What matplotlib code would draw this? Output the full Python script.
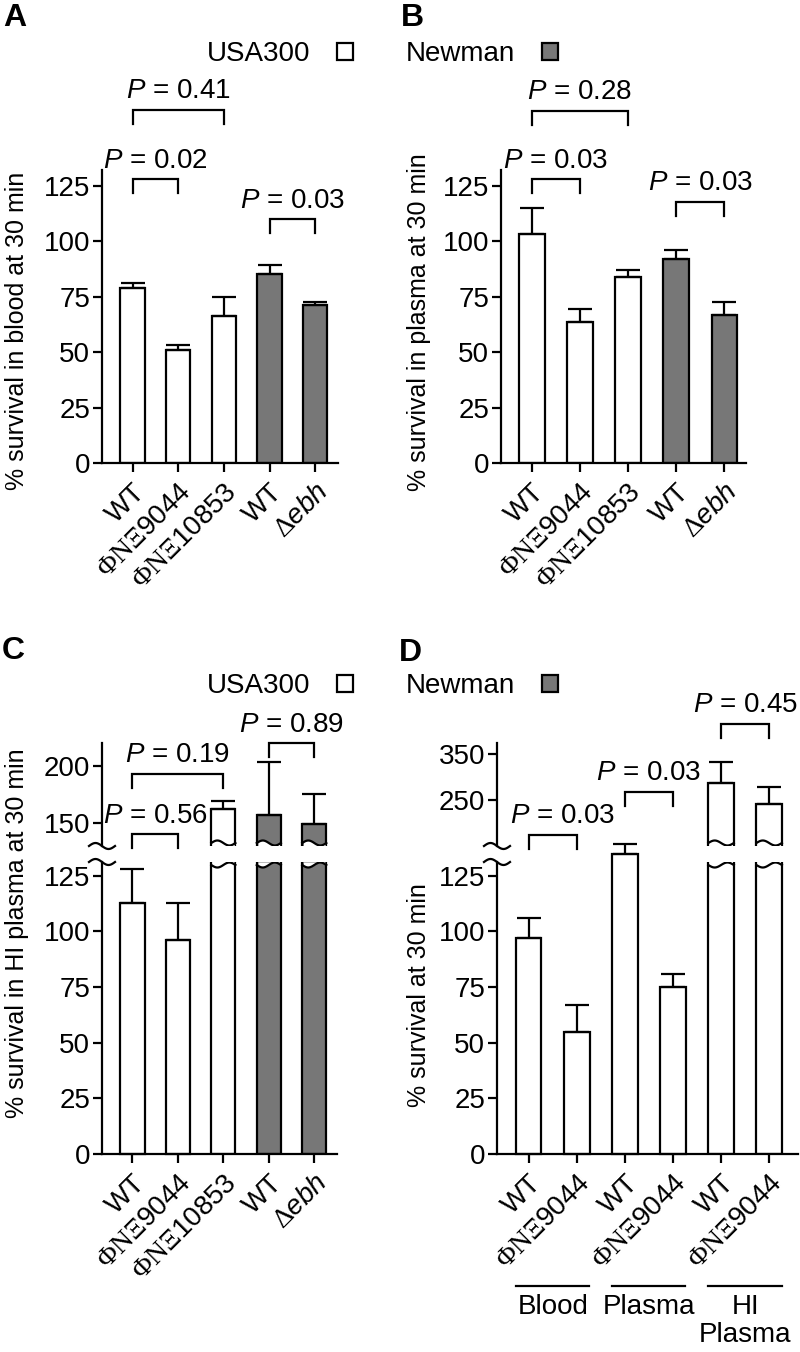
import numpy as np
import matplotlib.pyplot as plt
from matplotlib.patches import Patch
from matplotlib.transforms import blended_transform_factory

plt.rcParams['font.family'] = ['Liberation Sans', 'DejaVu Sans']
plt.rcParams['mathtext.fontset'] = 'custom'
plt.rcParams['mathtext.rm'] = 'Liberation Serif'
plt.rcParams['mathtext.it'] = 'Liberation Sans:italic'
plt.rcParams['mathtext.bf'] = 'Liberation Sans:bold'

# ---- data ----
PHI_NE = r"$\mathrm{\Phi N\Xi}$"
strains = ["WT", PHI_NE + "9044", PHI_NE + "10853", "WT", r"$\mathrm{\Delta}\mathit{ebh}$"]
is_newman = [False, False, False, True, True]

blood_mean = [79, 51, 66, 85, 71]
blood_err = [2, 2, 9, 4, 1.5]

plasma_mean = [103, 63.5, 84, 92, 66.5]
plasma_err = [12, 5.7, 3, 4, 6]

hi_mean = [113, 96, 162, 157, 149.5]
hi_err = [15, 17, 7, 46, 26]

d_labels = ["WT", PHI_NE + "9044"] * 3
d_mean = [97, 55, 135, 75, 287, 242]
d_err = [9, 12, 4.5, 5.7, 47, 37]
d_groups = ["Blood", "Plasma", "HI\nPlasma"]

# p-value comparisons: (bar i, bar j, bracket height, label)
cmp_a = [(0, 1, 127.8, "0.02"), (0, 2, 159, "0.41"), (3, 4, 109.7, "0.03")]
cmp_b = [(0, 1, 127.8, "0.03"), (0, 2, 158.5, "0.28"), (3, 4, 117.6, "0.03")]
cmp_c_low = [(0, 1, 143.6, "0.56")]
cmp_c_up = [(0, 2, 193, "0.19"), (3, 4, 219.6, "0.89")]
cmp_d_low = [(0, 1, 143.4, "0.03", 7)]
cmp_d_up = [(2, 3, 269, "0.03"), (4, 5, 416, "0.45")]

GRAY = '#777777'
LW = 1.6
W, H = 800, 1352
BAR_W = 0.53

fig = plt.figure(figsize=(W / 100, H / 100), dpi=100)


def box(left, right, top, bottom):
    return [left / W, 1 - bottom / H, (right - left) / W, (bottom - top) / H]


def style(ax, bottom=True):
    ax.patch.set_visible(False)
    for s in ['top', 'right']:
        ax.spines[s].set_visible(False)
    ax.spines['left'].set_linewidth(LW)
    ax.spines['bottom'].set_linewidth(LW)
    if not bottom:
        ax.spines['bottom'].set_visible(False)
        ax.tick_params(axis='x', bottom=False, labelbottom=False)
    ax.tick_params(axis='both', width=LW, length=6.5, labelsize=20, direction='out')
    ax.tick_params(axis='y', pad=2)
    ax.tick_params(axis='x', pad=5)


def xlabels(ax, labels):
    ax.set_xticks(np.arange(len(labels)))
    ax.set_xticklabels(labels, rotation=45, ha='right', va='top', rotation_mode='anchor')


def bars(ax, means, errs, colors, clip):
    x = np.arange(len(means))
    bc = ax.bar(x, means, width=BAR_W, color=colors, edgecolor='k', linewidth=LW, zorder=2)
    for p, c in zip(bc.patches, clip):
        p.set_clip_on(c)
    for xi, m, e, c in zip(x, means, errs, clip):
        if e == 0:
            continue
        eb = ax.errorbar([xi], [m], yerr=[[0], [e]], fmt='none', ecolor='k',
                         elinewidth=LW, capsize=8.5, capthick=LW, zorder=3)
        for art in eb.lines[1] + eb.lines[2]:
            art.set_clip_on(c)


def bracket(ax, i, j, y, label, dx=0):
    ppu = ax.bbox.height / (ax.get_ylim()[1] - ax.get_ylim()[0])
    leg = 14 / ppu
    ax.plot([i, i, j, j], [y - leg, y, y, y - leg], color='k', lw=LW, clip_on=False,
            solid_joinstyle='miter', zorder=5)
    ax.annotate(r"$\mathit{P}$ = " + label, xy=((i + j) / 2, y), xytext=(dx, 8.5),
                textcoords='offset points', ha='center', va='baseline', fontsize=20,
                annotation_clip=False, zorder=5)


def squiggle(ax, yfrac):
    w, h = ax.bbox.width, ax.bbox.height
    t = np.linspace(0, 1, 40)
    ax.plot((-13 + 26 * t) / w, yfrac + 3 * np.sin(2 * np.pi * t) / h,
            transform=ax.transAxes, color='k', lw=LW, clip_on=False)


def bar_cut(ax, xc, top):
    h = ax.bbox.height
    t = np.linspace(0, 1, 40)
    xs = xc - BAR_W / 2 + BAR_W * t
    off = (3 + 2.5 * np.sin(2 * np.pi * t)) / h
    tr = blended_transform_factory(ax.transData, ax.transAxes)
    inset = (t > 0.03) & (t < 0.97)
    if top:
        ys = 1 - off
        ax.fill_between(xs[inset], ys[inset], 1, transform=tr, color='white', zorder=3, lw=0)
    else:
        ys = off
        ax.fill_between(xs[inset], 0, ys[inset], transform=tr, color='white', zorder=3, lw=0)
    ax.plot(xs, ys, transform=tr, color='k', lw=LW, zorder=4)


def colors_of(flags):
    return [GRAY if f else 'white' for f in flags]


# ---- Panel A ----
axA = fig.add_axes(box(102, 338, 170, 463))
style(axA)
axA.set_xlim(-0.67, 4.5)
axA.set_ylim(0, 132)
bars(axA, blood_mean, blood_err, colors_of(is_newman), [True] * 5)
axA.set_yticks(np.arange(0, 126, 25))
xlabels(axA, strains)
for c in cmp_a:
    bracket(axA, *c)

# ---- Panel B ----
axB = fig.add_axes(box(501, 746, 170, 463))
style(axB)
axB.set_xlim(-0.64, 4.45)
axB.set_ylim(0, 132)
bars(axB, plasma_mean, plasma_err, colors_of(is_newman), [True] * 5)
axB.set_yticks(np.arange(0, 126, 25))
xlabels(axB, strains)
for c in cmp_b:
    bracket(axB, *c)


def broken_panel(left, right, xlim, low_lim, up_lim, up_ticks, means, errs, colors,
                 labels, cmp_low, cmp_up):
    lo = fig.add_axes(box(left, right, 862, 1154))
    up = fig.add_axes(box(left, right, 743, 846))
    style(lo)
    style(up, bottom=False)
    lo.set_xlim(*xlim)
    up.set_xlim(*xlim)
    lo.set_ylim(*low_lim)
    up.set_ylim(*up_lim)
    broken = [m >= up_lim[0] for m in means]
    # lower part: broken bars clipped at the break, others drawn whole
    bars(lo, means, [0 if b else e for e, b in zip(errs, broken)], colors, broken)
    # upper part: only the broken bars
    idx = [k for k, b in enumerate(broken) if b]
    up.bar(idx, [means[k] for k in idx], width=BAR_W, color=[colors[k] for k in idx],
           edgecolor='k', linewidth=LW, zorder=2)
    up.errorbar(idx, [means[k] for k in idx], yerr=[[0] * len(idx), [errs[k] for k in idx]],
                fmt='none', ecolor='k', elinewidth=LW, capsize=8.5, capthick=LW, zorder=3)
    for k in idx:
        bar_cut(lo, k, True)
        bar_cut(up, k, False)
    lo.set_yticks(np.arange(0, 126, 25))
    up.set_yticks(up_ticks)
    xlabels(lo, labels)
    squiggle(lo, 1)
    squiggle(up, 0)
    for c in cmp_low:
        bracket(lo, *c)
    for c in cmp_up:
        bracket(up, *c)
    return lo, up


# ---- Panel C ----
cLo, cUp = broken_panel(102, 337, (-0.67, 4.5), (0, 131.2), (130, 220), [150, 200],
                        hi_mean, hi_err, colors_of(is_newman), strains, cmp_c_low, cmp_c_up)

# ---- Panel D ----
dLo, dUp = broken_panel(497, 798, (-0.66, 5.6), (0, 131.2), (150, 375), [250, 350],
                        d_mean, d_err, ['white'] * 6, d_labels, cmp_d_low, cmp_d_up)

tr = blended_transform_factory(dLo.transData, dLo.transAxes)
for g, name in enumerate(d_groups):
    dLo.plot([2 * g - 0.27, 2 * g + 1.26], [-0.4506, -0.4506], transform=tr, color='k',
             lw=LW, clip_on=False)
    dLo.text(2 * g + 0.5, -0.48, name, transform=tr, ha='center', va='top', fontsize=20,
             linespacing=1.1)

# ---- axis titles ----
fig.text(0.021, 1 - 331 / H, "% survival in blood at 30 min", rotation=90, ha='center',
         va='center', fontsize=18)
fig.text(0.524, 1 - 322 / H, "% survival in plasma at 30 min", rotation=90, ha='center',
         va='center', fontsize=18)
fig.text(0.021, 1 - 933 / H, "% survival in HI plasma at 30 min", rotation=90, ha='center',
         va='center', fontsize=18)
fig.text(0.524, 1 - 995 / H, "% survival at 30 min", rotation=90, ha='center',
         va='center', fontsize=18)

# ---- panel letters ----
for lbl, px, py in [("A", 3, 3), ("B", 401, 3), ("C", 2, 636), ("D", 399, 638)]:
    fig.text(px / W, 1 - py / H, lbl, fontsize=23, fontweight='bold', ha='left', va='top')

# ---- legends ----
handles = [Patch(facecolor='white', edgecolor='k', linewidth=LW),
           Patch(facecolor=GRAY, edgecolor='k', linewidth=LW)]
for ly in [54, 686]:
    fig.legend(handles, ["USA300", "Newman"], ncol=2, markerfirst=False, frameon=False,
               handlelength=0.58, handleheight=0.58, handletextpad=0.95, columnspacing=1.9,
               fontsize=20, loc='center', bbox_to_anchor=(0.478, 1 - ly / H))

fig.savefig("out.png", dpi=100)
